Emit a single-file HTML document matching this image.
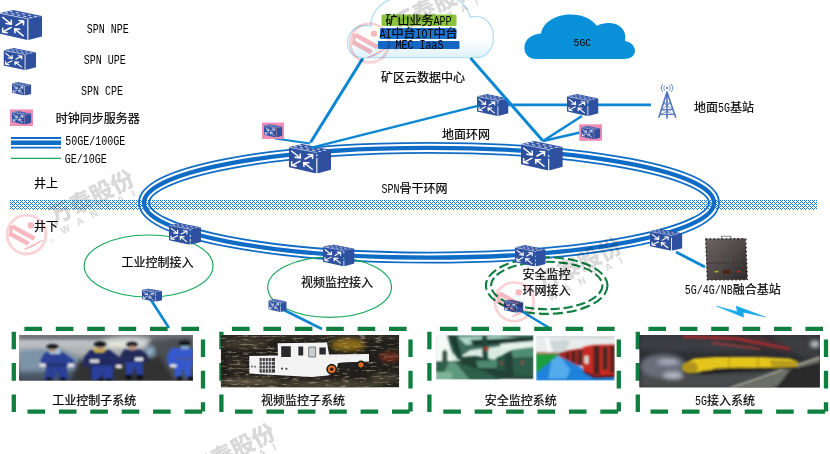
<!DOCTYPE html>
<html lang="zh"><head><meta charset="utf-8"><title>SPN</title>
<style>html,body{margin:0;padding:0;background:#fff}body{width:830px;height:454px;overflow:hidden}svg{display:block}</style>
</head><body>
<svg width="830" height="454" viewBox="0 0 830 454">
<defs>
<pattern id="hatch" x="9" y="201" width="4" height="4" patternUnits="userSpaceOnUse">
<path d="M0 0h1v1h-1zM1 1h1v1h-1zM2 2h1v1h-1zM3 3h1v1h-1zM1 3h1v1h-1zM3 1h1v1h-1z" fill="#1C78CC" shape-rendering="crispEdges"/>
</pattern>
<symbol id="sw" viewBox="0 0 42 30" preserveAspectRatio="none">
<path d="M0 3L13.2 0L42 6L27.8 8.8Z" fill="#3557A6"/>
<path d="M5 2.4L33.5 8.2M9.6 1.2L38 7" stroke="#dfe6f4" stroke-width="0.9" stroke-dasharray="3.2 3" fill="none"/>
<path d="M0 3.4L27.3 8.8L27.3 30L0 23.8Z" fill="#2F509F"/>
<path d="M0 3.3L27.6 8.8" stroke="#b9c6e4" stroke-width="0.8" fill="none"/>
<path d="M28.4 8.8L42 6.1L42 26.4L28.4 30Z" fill="#2F509F"/>
<g stroke="#fff" stroke-width="1.5" fill="none" stroke-linecap="round" stroke-linejoin="round">
<path d="M2.8 7.4L11.4 14.3M11.2 10.2L11.4 14.3L6 13.6"/>
<path d="M16 15.3L23.7 11M19 10.6L23.7 11L23.5 14.8"/>
<path d="M11 17.5L2.6 22M2.7 18.2L2.6 22L7 22.8"/>
<path d="M23.2 25.8L14.6 18.8M19.8 19.2L14.6 18.8L15 22.8"/>
</g>
</symbol>
<filter id="b1" x="-5%" y="-5%" width="110%" height="110%"><feGaussianBlur stdDeviation="1"/></filter>
<filter id="b2" x="-5%" y="-5%" width="110%" height="110%"><feGaussianBlur stdDeviation="2"/></filter>
<filter id="b05" x="-5%" y="-5%" width="110%" height="110%"><feGaussianBlur stdDeviation="0.6"/></filter>
</defs>
<rect width="830" height="454" fill="#fff"/>
<g opacity="0.999">

<rect x="10" y="200" width="807" height="10" fill="url(#hatch)"/>
<mask id="ringm" maskUnits="userSpaceOnUse" x="0" y="0" width="830" height="454"><g fill="none">
<ellipse cx="429" cy="202.7" rx="285" ry="54.9" stroke="#fff" stroke-width="11.8"/>
<ellipse cx="429" cy="202.7" rx="285" ry="54.9" stroke="#000" stroke-width="8.3"/>
<ellipse cx="429" cy="202.7" rx="285" ry="54.9" stroke="#fff" stroke-width="4.3"/>
</g></mask>
<rect x="130" y="135" width="600" height="135" fill="#0F6CC6" mask="url(#ringm)"/>
<ellipse cx="148.6" cy="266" rx="64.4" ry="31" fill="none" stroke="#16A75A" stroke-width="1.15"/>
<ellipse cx="329.6" cy="287.3" rx="61.9" ry="30.1" fill="none" stroke="#16A75A" stroke-width="1.15"/>
<ellipse cx="546.7" cy="285.6" rx="60.8" ry="28.3" fill="none" stroke="#0F7F3F" stroke-width="2.1" stroke-dasharray="10 4"/>
<ellipse cx="546.7" cy="285.5" rx="55.7" ry="23.7" fill="none" stroke="#0F7F3F" stroke-width="2.1" stroke-dasharray="9.2 3.7"/>
<line x1="363" y1="58" x2="310.5" y2="142.5" stroke="#0A86D2" stroke-width="3"/>
<line x1="275" y1="138.5" x2="310" y2="143.5" stroke="#0A86D2" stroke-width="2.2"/>
<line x1="495" y1="104.9" x2="651" y2="104.9" stroke="#0A86D2" stroke-width="2.8"/>
<line x1="582" y1="116" x2="543" y2="141" stroke="#0A86D2" stroke-width="2.6"/>
<line x1="580" y1="132.5" x2="543" y2="141" stroke="#0A86D2" stroke-width="2.4"/>
<line x1="151" y1="300" x2="169" y2="328" stroke="#0A86D2" stroke-width="2.6"/>
<line x1="282" y1="309" x2="322" y2="329" stroke="#0A86D2" stroke-width="2.6"/>
<line x1="518" y1="309" x2="551" y2="329" stroke="#0A86D2" stroke-width="2.6"/>
<line x1="676" y1="252" x2="705" y2="267" stroke="#0A86D2" stroke-width="2.8"/>
<linearGradient id="cg" x1="0" y1="0" x2="0" y2="1"><stop offset="0" stop-color="#ffffff"/><stop offset="0.7" stop-color="#ffffff"/><stop offset="1" stop-color="#DDF1FA"/></linearGradient>
<path d="M362 57.7 C353 57.7 347.5 51 347.5 43.5 C347.5 33 355 25.5 365 25.5 C367 25.5 369 25.8 371 26.5 C370 12 383 -2 402 -3 L446 -3 C458 -3 468 6 470 17 C472 16.5 474 16.3 476 16.3 C486 16.3 493.5 26 493.5 37 C493.5 48 487 57.7 477 57.7 Z" fill="url(#cg)" stroke="#B2E0F4" stroke-width="1.3"/>
<rect x="381.5" y="14.6" width="75" height="11.4" rx="1.5" fill="#8CC43F"/>
<rect x="380" y="28" width="76.5" height="11" rx="1.5" fill="#1B74D2"/>
<rect x="378" y="41" width="81.5" height="8" rx="1" fill="#1565C4"/>
<text y="25.0" font-size="12" fill="#000" xml:space="preserve" ><tspan x="385.5" font-family='"Liberation Sans","Noto Sans CJK SC",sans-serif' stroke="#000" stroke-width="0.2" textLength="48.0" lengthAdjust="spacing">矿山业务</tspan><tspan x="433.5" font-family='"Liberation Mono","Noto Sans CJK SC",monospace' textLength="18.0" lengthAdjust="spacingAndGlyphs">APP</tspan></text>
<text y="38.4" font-size="12" fill="#000" xml:space="preserve" ><tspan x="379.5" font-family='"Liberation Mono","Noto Sans CJK SC",monospace' textLength="12.0" lengthAdjust="spacingAndGlyphs">AI</tspan><tspan x="391.5" font-family='"Liberation Sans","Noto Sans CJK SC",sans-serif' stroke="#000" stroke-width="0.2" textLength="24.0" lengthAdjust="spacing">中台</tspan><tspan x="415.5" font-family='"Liberation Mono","Noto Sans CJK SC",monospace' textLength="18.0" lengthAdjust="spacingAndGlyphs">IOT</tspan><tspan x="433.5" font-family='"Liberation Sans","Noto Sans CJK SC",sans-serif' stroke="#000" stroke-width="0.2" textLength="24.0" lengthAdjust="spacing">中台</tspan></text>
<text y="49.0" font-size="12" fill="#000" xml:space="preserve" ><tspan x="395.4" font-family='"Liberation Mono","Noto Sans CJK SC",monospace' textLength="48.0" lengthAdjust="spacingAndGlyphs">MEC IaaS</tspan></text>
<text y="82.2" font-size="12" fill="#000" xml:space="preserve" ><tspan x="381.0" font-family='"Liberation Sans","Noto Sans CJK SC",sans-serif' stroke="#000" stroke-width="0.2" textLength="84.0" lengthAdjust="spacing">矿区云数据中心</tspan></text>
<path d="M536 59 C528 59 524 53 524.4 47 C525 39 532 34 541 33.5 C543 22 556 14.6 571 14.6 C582 14.6 592 19 597 26 C602 23 608 22.5 613 23.5 C622 25 627 33 625 41 C631 42 635 46 635 51 C635 56 630 59 624 59 Z" fill="#0890D8"/>
<text y="46.2" font-size="11.6" fill="#000" xml:space="preserve" ><tspan x="573.6" font-family='"Liberation Mono","Noto Sans CJK SC",monospace' textLength="17.4" lengthAdjust="spacingAndGlyphs">5GC</tspan></text>
<use href="#sw" x="0" y="10" width="42" height="30"/>
<use href="#sw" x="3.5" y="48" width="32.5" height="22"/>
<use href="#sw" x="12" y="82" width="19.3" height="13.5"/>
<rect x="10" y="109.4" width="23" height="16.6" fill="#F08DB5"/>
<use href="#sw" x="12" y="111.0" width="19.4" height="13.400000000000002"/>
<rect x="262" y="122.6" width="22" height="16.4" fill="#F08DB5"/>
<use href="#sw" x="264" y="124.19999999999999" width="18.4" height="13.2"/>
<rect x="579.2" y="124.3" width="22.8" height="16.5" fill="#F08DB5"/>
<use href="#sw" x="581.2" y="125.89999999999999" width="19.2" height="13.3"/>
<use href="#sw" x="289" y="144" width="42" height="29.4"/>
<use href="#sw" x="521" y="141" width="41.8" height="29.4"/>
<use href="#sw" x="477" y="94" width="31.5" height="22"/>
<use href="#sw" x="567" y="94" width="31.5" height="22"/>
<use href="#sw" x="169" y="223" width="32" height="21.7"/>
<use href="#sw" x="323" y="244.4" width="31.5" height="21.8"/>
<use href="#sw" x="515" y="245" width="30.7" height="21.6"/>
<use href="#sw" x="650" y="229" width="32.4" height="21.8"/>
<use href="#sw" x="142" y="288.4" width="20" height="13.4"/>
<use href="#sw" x="268.3" y="299" width="18.4" height="13"/>
<use href="#sw" x="503.9" y="299.5" width="19.6" height="13.3"/>
<line x1="470.5" y1="58" x2="543" y2="141" stroke="#0A86D2" stroke-width="3"/>
<line x1="310.8" y1="147.8" x2="478.6" y2="105.7" stroke="#0A86D2" stroke-width="2.4"/>
<line x1="11" y1="138" x2="61" y2="138" stroke="#0F6CC6" stroke-width="1.8"/>
<line x1="11" y1="142.8" x2="61" y2="142.8" stroke="#0F6CC6" stroke-width="4.6"/>
<line x1="11" y1="147.7" x2="61" y2="147.7" stroke="#0F6CC6" stroke-width="1.8"/>
<line x1="11" y1="158.3" x2="61" y2="158.3" stroke="#16A75A" stroke-width="1.15"/>
<text y="33.0" font-size="12" fill="#000" xml:space="preserve" ><tspan x="86.7" font-family='"Liberation Mono","Noto Sans CJK SC",monospace' textLength="42.0" lengthAdjust="spacingAndGlyphs">SPN NPE</tspan></text>
<text y="64.0" font-size="12" fill="#000" xml:space="preserve" ><tspan x="83.7" font-family='"Liberation Mono","Noto Sans CJK SC",monospace' textLength="42.0" lengthAdjust="spacingAndGlyphs">SPN UPE</tspan></text>
<text y="95.0" font-size="12" fill="#000" xml:space="preserve" ><tspan x="81.0" font-family='"Liberation Mono","Noto Sans CJK SC",monospace' textLength="42.0" lengthAdjust="spacingAndGlyphs">SPN CPE</tspan></text>
<text y="123.0" font-size="12" fill="#000" xml:space="preserve" ><tspan x="55.8" font-family='"Liberation Sans","Noto Sans CJK SC",sans-serif' stroke="#000" stroke-width="0.2" textLength="84.0" lengthAdjust="spacing">时钟同步服务器</tspan></text>
<text y="145.0" font-size="12" fill="#000" xml:space="preserve" ><tspan x="65.3" font-family='"Liberation Mono","Noto Sans CJK SC",monospace' textLength="60.0" lengthAdjust="spacingAndGlyphs">50GE/100GE</tspan></text>
<text y="162.8" font-size="12" fill="#000" xml:space="preserve" ><tspan x="64.8" font-family='"Liberation Mono","Noto Sans CJK SC",monospace' textLength="42.0" lengthAdjust="spacingAndGlyphs">GE/10GE</tspan></text>
<text y="188.0" font-size="12" fill="#000" xml:space="preserve" ><tspan x="34.0" font-family='"Liberation Sans","Noto Sans CJK SC",sans-serif' stroke="#000" stroke-width="0.2" textLength="24.0" lengthAdjust="spacing">井上</tspan></text>
<text y="230.6" font-size="12" fill="#000" xml:space="preserve" ><tspan x="34.0" font-family='"Liberation Sans","Noto Sans CJK SC",sans-serif' stroke="#000" stroke-width="0.2" textLength="24.0" lengthAdjust="spacing">井下</tspan></text>
<text y="139.0" font-size="12" fill="#000" xml:space="preserve" ><tspan x="442.0" font-family='"Liberation Sans","Noto Sans CJK SC",sans-serif' stroke="#000" stroke-width="0.2" textLength="48.0" lengthAdjust="spacing">地面环网</tspan></text>
<text y="193.0" font-size="12" fill="#000" xml:space="preserve" ><tspan x="381.4" font-family='"Liberation Mono","Noto Sans CJK SC",monospace' textLength="18.0" lengthAdjust="spacingAndGlyphs">SPN</tspan><tspan x="399.4" font-family='"Liberation Sans","Noto Sans CJK SC",sans-serif' stroke="#000" stroke-width="0.2" textLength="48.0" lengthAdjust="spacing">骨干环网</tspan></text>
<text y="266.6" font-size="12" fill="#000" xml:space="preserve" ><tspan x="121.4" font-family='"Liberation Sans","Noto Sans CJK SC",sans-serif' stroke="#000" stroke-width="0.2" textLength="72.0" lengthAdjust="spacing">工业控制接入</tspan></text>
<text y="287.2" font-size="12" fill="#000" xml:space="preserve" ><tspan x="301.0" font-family='"Liberation Sans","Noto Sans CJK SC",sans-serif' stroke="#000" stroke-width="0.2" textLength="72.0" lengthAdjust="spacing">视频监控接入</tspan></text>
<text y="279.4" font-size="12" fill="#000" xml:space="preserve" ><tspan x="522.6" font-family='"Liberation Sans","Noto Sans CJK SC",sans-serif' stroke="#000" stroke-width="0.2" textLength="48.0" lengthAdjust="spacing">安全监控</tspan></text>
<text y="295.0" font-size="12" fill="#000" xml:space="preserve" ><tspan x="522.6" font-family='"Liberation Sans","Noto Sans CJK SC",sans-serif' stroke="#000" stroke-width="0.2" textLength="48.0" lengthAdjust="spacing">环网接入</tspan></text>
<text y="112.0" font-size="12" fill="#000" xml:space="preserve" ><tspan x="694.0" font-family='"Liberation Sans","Noto Sans CJK SC",sans-serif' stroke="#000" stroke-width="0.2" textLength="24.0" lengthAdjust="spacing">地面</tspan><tspan x="718.0" font-family='"Liberation Mono","Noto Sans CJK SC",monospace' textLength="12.0" lengthAdjust="spacingAndGlyphs">5G</tspan><tspan x="730.0" font-family='"Liberation Sans","Noto Sans CJK SC",sans-serif' stroke="#000" stroke-width="0.2" textLength="24.0" lengthAdjust="spacing">基站</tspan></text>
<text y="294.2" font-size="12" fill="#000" xml:space="preserve" ><tspan x="684.7" font-family='"Liberation Mono","Noto Sans CJK SC",monospace' textLength="48.0" lengthAdjust="spacingAndGlyphs">5G/4G/NB</tspan><tspan x="732.7" font-family='"Liberation Sans","Noto Sans CJK SC",sans-serif' stroke="#000" stroke-width="0.2" textLength="48.0" lengthAdjust="spacing">融合基站</tspan></text>
<g stroke="#5274BA" fill="none" stroke-width="1.6" stroke-linecap="round">
<path d="M667 92L659 117M667 92L675.5 117M667 92L667 118"/>
<path d="M663.5 103L670.5 103M661.5 109.5L672.5 109.5M660 114.5L674 114.5" stroke-width="0.9"/>
<path d="M663.5 103L672.5 109.5M670.5 103L661.5 109.5M661.5 109.5L674 114.5M672.5 109.5L660 114.5" stroke-width="0.7"/>
<path d="M664.6 85.6A3.4 3.4 0 0 0 664.6 90.4M669.4 85.6A3.4 3.4 0 0 1 669.4 90.4M662.6 84.4A5.6 5.6 0 0 0 662.6 91.6M671.4 84.4A5.6 5.6 0 0 1 671.4 91.6" stroke-width="0.8"/>
</g><circle cx="667" cy="88" r="1.1" fill="#4A6DB5"/>
<linearGradient id="bsg" x1="0" y1="0" x2="1" y2="1"><stop offset="0" stop-color="#6b6462"/><stop offset="0.45" stop-color="#534c4b"/><stop offset="1" stop-color="#2f2a2a"/></linearGradient>
<path d="M721.6 239L721.6 236.2L730.8 236.2L730.8 239" fill="none" stroke="#8a8a8a" stroke-width="1.1"/>
<path d="M705.4 238.8L745.6 238.6L747.4 279.8L707.2 280Z" fill="url(#bsg)" filter="url(#b05)"/>
<path d="M705.8 238.8L707.4 280M745.8 238.8L747.4 279.8M705.6 238.9L745.6 238.7M707.2 279.9L747.4 279.7" stroke="#262222" stroke-width="1.3" stroke-dasharray="1.6 2.4" fill="none"/>
<path d="M707.5 263L746.6 262.6" stroke="#3a3434" stroke-width="0.8"/>
<rect x="723.2" y="270" width="6.6" height="4" fill="#4a2410"/>
<rect x="714.6" y="270.8" width="4" height="1.6" fill="#a8ad28"/><rect x="737" y="270.8" width="3.4" height="1.6" fill="#b82a28"/>
<circle cx="727.4" cy="261.6" r="0.7" fill="#2f7a3a"/><circle cx="730.4" cy="261.6" r="0.7" fill="#2f7a3a"/><circle cx="738.4" cy="261.6" r="0.7" fill="#2f7a3a"/>
<path d="M716.4 306.1L737.4 311.7L736.1 306.1L765.5 317L743.2 312.2L743.6 317.3Z" fill="#14A7EA" stroke="#14A7EA" stroke-width="0.5" stroke-linejoin="round"/>
<g stroke="#0F7F3F" stroke-width="4.3" stroke-dasharray="17.6 13.8" fill="none">
<line x1="13.8" y1="328.8" x2="203" y2="328.8" stroke-dashoffset="-10.6"/>
<line x1="203" y1="328.8" x2="203" y2="411.6" stroke-dashoffset="-10.6"/>
<line x1="203" y1="411.6" x2="13.8" y2="411.6" stroke-dashoffset="-0.9"/>
<line x1="13.8" y1="413.1" x2="13.8" y2="328.8" stroke-dashoffset="-1.0"/>
</g>
<g stroke="#0F7F3F" stroke-width="4.3" stroke-dasharray="17.6 13.8" fill="none">
<line x1="221.4" y1="328.8" x2="410.5" y2="328.8" stroke-dashoffset="-10.6"/>
<line x1="410.5" y1="328.8" x2="410.5" y2="411.6" stroke-dashoffset="-10.6"/>
<line x1="410.5" y1="411.6" x2="221.4" y2="411.6" stroke-dashoffset="-0.9"/>
<line x1="221.4" y1="413.1" x2="221.4" y2="328.8" stroke-dashoffset="-1.0"/>
</g>
<g stroke="#0F7F3F" stroke-width="4.3" stroke-dasharray="17.6 13.8" fill="none">
<line x1="429.4" y1="328.8" x2="618.8" y2="328.8" stroke-dashoffset="-10.6"/>
<line x1="618.8" y1="328.8" x2="618.8" y2="411.6" stroke-dashoffset="-10.6"/>
<line x1="618.8" y1="411.6" x2="429.4" y2="411.6" stroke-dashoffset="-0.9"/>
<line x1="429.4" y1="413.1" x2="429.4" y2="328.8" stroke-dashoffset="-1.0"/>
</g>
<g stroke="#0F7F3F" stroke-width="4.3" stroke-dasharray="17.6 13.8" fill="none">
<line x1="637.8" y1="328.8" x2="826" y2="328.8" stroke-dashoffset="-10.6"/>
<line x1="826" y1="328.8" x2="826" y2="411.6" stroke-dashoffset="-10.6"/>
<line x1="826" y1="411.6" x2="637.8" y2="411.6" stroke-dashoffset="-0.9"/>
<line x1="637.8" y1="413.1" x2="637.8" y2="328.8" stroke-dashoffset="-1.0"/>
</g>
<clipPath id="p1"><rect x="19.2" y="335" width="173.8" height="45.4"/></clipPath>
<g clip-path="url(#p1)"><rect x="19.2" y="335" width="173.8" height="45.4" fill="#6c7176"/>
<linearGradient id="p1g" x1="0" y1="0" x2="0" y2="1"><stop offset="0" stop-color="#7f8386"/><stop offset="0.12" stop-color="#c3c6c8"/><stop offset="0.4" stop-color="#a9adb0"/><stop offset="0.62" stop-color="#7c8288"/><stop offset="0.85" stop-color="#47494b"/><stop offset="1" stop-color="#2c2c2d"/></linearGradient>
<rect x="19" y="335" width="175" height="46" fill="url(#p1g)"/>
<g filter="url(#b2)">
<rect x="19" y="335" width="175" height="4" fill="#5e6265"/>
<path d="M19 350L62 349L84 360L84 381L19 381Z" fill="#7d93a8"/>
<path d="M19 372L80 370L80 381L19 381Z" fill="#4a5866"/>
<ellipse cx="128" cy="342" rx="26" ry="5" fill="#d2d4d4"/>
<path d="M150 340L194 338L194 381L140 381L142 352Z" fill="#4b4f53"/>
<path d="M78 360L160 356L175 381L70 381Z" fill="#333333"/>
<rect x="108" y="343" width="18" height="4" fill="#f0eee0"/>
<rect x="146" y="347" width="8" height="9" fill="#8fb0c8"/>
</g>
<g filter="url(#b1)">
<path d="M45 352.5L63 352.5L74 360L75 367L67 366L67 372L69 380L59 380L57 372L54 380L44 380L46 370L45.5 365L40 367.5L41 359Z" fill="#2c3f95"/>
<rect x="50" y="349" width="10" height="5" fill="#a9c3dd"/>
<ellipse cx="52.8" cy="349.6" rx="3.2" ry="2.8" fill="#b99684"/><ellipse cx="52.5" cy="346.6" rx="6" ry="2.7" fill="#17181c"/>
<rect x="39.5" y="363.5" width="6" height="3.4" fill="#e8e8e8"/><rect x="68" y="363.5" width="6" height="3.4" fill="#e8e8e8"/>
<rect x="47" y="364.2" width="18" height="1.4" fill="#1a1d2c"/>
<rect x="46" y="377.5" width="6" height="3" fill="#101010"/><rect x="60" y="377.5" width="6" height="3" fill="#101010"/>
<path d="M90 350L110 350L120 358L122 366L114 367L113 380L104 380L102 371L100 380L91 380L90 367L83 366L84 357Z" fill="#222c63"/>
<path d="M92 366L113 366L113 380L104 380L102 372L100 380L92 380Z" fill="#2a3f9c"/>
<path d="M93 348.5L106 348.5L104 352.5L95 352.5Z" fill="#cdb640"/>
<ellipse cx="100" cy="347.4" rx="3.2" ry="2.8" fill="#b08c7a"/><ellipse cx="100" cy="344.2" rx="6.2" ry="2.9" fill="#17181c"/>
<rect x="90" y="359.5" width="9" height="3.2" fill="#e4e4e4"/><rect x="116" y="365" width="6" height="3.4" fill="#e8e8e8"/>
<rect x="98" y="378" width="6" height="2.6" fill="#101010"/><rect x="106" y="378" width="6" height="2.6" fill="#101010"/>
<path d="M124 349.5L141 349.5L147 355L148 361L143 363L124 363L120 360L121 354Z" fill="#242a58"/>
<path d="M125 362L143 362L143 376L137 376L134 366L132 376L126 376Z" fill="#2a42a0"/>
<ellipse cx="132" cy="344.6" rx="5.6" ry="2.8" fill="#17181c"/>
<ellipse cx="132.2" cy="348" rx="3.2" ry="2.6" fill="#b48c78"/>
<rect x="135" y="357.6" width="8" height="3.2" fill="#eeeeee"/>
<rect x="126" y="374.6" width="5.4" height="5" fill="#0c0c0c"/><rect x="137" y="374.6" width="5.4" height="5" fill="#0c0c0c"/>
<path d="M171 348L193 348L193 366L191 366L191 377L185 377L183 367L181 377L175 377L174 366L168 366L167 356Z" fill="#3558cc"/>
<ellipse cx="184.6" cy="343.2" rx="5.8" ry="2.8" fill="#17181c"/>
<rect x="181" y="345.8" width="8" height="3.6" fill="#7fa6c8"/>
<rect x="176" y="358" width="17" height="1.2" fill="#5a5a48"/>
<rect x="170" y="364.4" width="6.6" height="3" fill="#ececec"/>
<rect x="177" y="376" width="5" height="4.4" fill="#0c0c0c"/><rect x="188" y="376" width="5" height="4.4" fill="#0c0c0c"/>
</g>
</g>
<filter id="spk" x="0" y="0" width="100%" height="100%"><feTurbulence type="fractalNoise" baseFrequency="0.12 0.5" numOctaves="3" seed="11" result="n"/><feColorMatrix in="n" type="matrix" values="0 0 0 0 0.45  0 0 0 0 0.39  0 0 0 0 0.27  3.2 0 0 0 -1.75"/></filter>
<clipPath id="p2"><rect x="220.7" y="334.9" width="178.5" height="52.6"/></clipPath>
<g clip-path="url(#p2)"><rect x="220.7" y="334.9" width="178.5" height="52.6" fill="#211f1a"/>
<g filter="url(#b2)">
<ellipse cx="348" cy="345" rx="17" ry="6" fill="#8a6a18"/>
<ellipse cx="390" cy="357" rx="11" ry="5" fill="#6a2a1c"/>
<ellipse cx="250" cy="382" rx="30" ry="4" fill="#5b513f"/>
<ellipse cx="330" cy="384" rx="55" ry="3.5" fill="#4c4636"/>
<ellipse cx="245" cy="344" rx="24" ry="5" fill="#3d382c"/>
<ellipse cx="385" cy="378" rx="16" ry="5" fill="#3f3a2e"/>
<ellipse cx="236" cy="364" rx="10" ry="8" fill="#2f2c24"/>
<rect x="221" y="335" width="180" height="4" fill="#35322a"/>
</g>
<rect x="220.7" y="334.9" width="178.5" height="52.6" filter="url(#spk)" opacity="0.75"/>
<g filter="url(#b05)">
<path d="M249.3 356L278 355.5L277.6 343.2L327 342.6L329 354.4L369 354L369 361.5L345 362.5L338 363L336 372L328 375.5L312 377L249.3 373.5Z" fill="#f3f3f3"/>
<path d="M281.2 346.3L290.8 346.3L290.8 357L281.2 357ZM298.4 346.6L303.2 346.6L303.2 355.6L298.4 355.6ZM319.4 347.4L325.8 347.4L325.8 354.6L319.4 354.6Z" fill="#2b2b2d"/>
<path d="M308.6 347L315.6 347L315.6 357L308.6 357Z" fill="#c9ccd0" stroke="#55585c" stroke-width="0.7"/>
<rect x="259.6" y="358" width="15.4" height="14.6" fill="#3a3a3c"/>
<path d="M262.3 358v14.6M265.3 358v14.6M268.3 358v14.6M271.3 358v14.6M259.6 361.6h15.4M259.6 365.2h15.4M259.6 368.8h15.4" stroke="#e8e8e8" stroke-width="0.9"/>
<circle cx="331.7" cy="369.2" r="5.4" fill="#1c1c1c"/><circle cx="331.7" cy="369.2" r="3.8" fill="#e8702a"/><circle cx="331.7" cy="369.2" r="1.8" fill="#2a2320"/>
<circle cx="361" cy="364.8" r="4.4" fill="#1c1c1c"/><circle cx="361" cy="364.8" r="2.6" fill="#d8682a"/>
<path d="M339 363L356 362L356 367L342 370Z" fill="#222"/>
<circle cx="282" cy="368.6" r="1.1" fill="#444"/><circle cx="286.4" cy="368.8" r="1.1" fill="#444"/><circle cx="252" cy="366.5" r="0.9" fill="#555"/><circle cx="255" cy="366.7" r="0.9" fill="#555"/>
</g>
</g>
<clipPath id="p3a"><rect x="435.9" y="335.2" width="97.5" height="44.4"/></clipPath>
<g clip-path="url(#p3a)"><rect x="435.9" y="335.2" width="97.5" height="44.4" fill="#d9ebe3"/>
<g filter="url(#b1)">
<path d="M446 335L534 335L534 343L500 346L470 350L458 358L452 352Z" fill="#3d6a5b"/>
<path d="M458 337L500 336L520 338L490 341L466 345Z" fill="#a9d6c8"/>
<path d="M448 335L456 335L462 357L458 360Z" fill="#1f3d33"/>
<path d="M470 340L534 337L534 341L474 346Z" fill="#1d392f"/>
<path d="M482 336L487 336L488 362L483 362Z" fill="#24463b"/>
<path d="M500 344L534 341L534 346L502 349Z" fill="#e6f3ee"/>
<path d="M436 335L447 335L452 361L436 361Z" fill="#f4faf7"/>
<path d="M442 352Q445 347 447.5 352L447.5 369L442 369Z" fill="#3a5a4c"/>
<path d="M436 361L466 361L476 364L500 372L500 380L436 380Z" fill="#2f5f49"/>
<path d="M449 362L455 362L470 380L440 380Z" fill="#5f987a"/>
<path d="M436 372L452 372L452 380L436 380Z" fill="#7fb498"/>
<path d="M460 357L476 356L494 360L510 351L534 348L534 379L500 379L486 372L468 366L460 363Z" fill="#204337"/>
<path d="M511 350L534 347L534 357L513 358Z" fill="#4f8c76"/>
<path d="M476 361L498 360L498 368L478 368Z" fill="#4c8870"/>
<path d="M497 357L505 356L505 371L497 371Z" fill="#2b5446"/>
<path d="M512 359L534 358L534 376L514 376Z" fill="#2d5d4c"/>
<circle cx="486.3" cy="348.8" r="2.2" fill="#a0402c"/>
<rect x="521.6" y="361" width="1.6" height="3.6" fill="#b04a3a"/><rect x="500" y="362" width="3" height="2" fill="#8a4a38"/>
</g>
</g>
<clipPath id="p3b"><rect x="536.1" y="336.1" width="78.7" height="44.5"/></clipPath>
<g clip-path="url(#p3b)"><rect x="536.1" y="336.1" width="78.7" height="44.5" fill="#e9eced"/>
<g filter="url(#b1)">
<path d="M536.1 336.1L614.8 336.1L614.8 338.5L536.1 337.3Z" fill="#cfd3d4"/>
<path d="M544.5 337.3L549.4 337.3L551.2 352.4L548.2 352.4Z" fill="#fbfbfb"/>
<path d="M549.4 340.9L570.0 339.7L566.3 350.6L554.2 352.4Z" fill="#cdd6d8"/>
<path d="M536.1 354.2L558.5 353.6L570.0 360.3L586.9 371.2L614.8 378.4L614.8 380.9L536.1 380.9Z" fill="#1c82da"/>
<path d="M551.8 356.0L560.3 356.0L570.0 370.0L566.3 378.4L548.2 378.4L550.6 366.3Z" fill="#55acec"/>
<path d="M536.1 353.3L558.1 353.3L557.3 356.0L536.1 373.6Z" fill="#1f9c3c"/>
<path d="M536.1 352.5L558.1 352.5L558.1 353.7L536.1 353.7Z" fill="#b84a40"/>
<path d="M558.1 353.0L566.3 350.8L583.3 348.2L583.3 366.3L576.0 365.1L566.3 359.7L558.1 355.7Z" fill="#a82820"/>
<path d="M566.3 352.4L568.8 352.0L568.8 360.3L566.3 359.1Z" fill="#40201c"/>
<path d="M571.8 351.8L575.1 351.2L575.1 363.3L571.8 361.7Z" fill="#3c2420"/>
<path d="M577.8 350.6L582.1 350.0L582.1 365.1L577.8 364.5Z" fill="#4a2a26"/>
<path d="M583.1 347.0L593.0 345.1L614.8 344.5L614.8 376.6L595.4 377.5L583.1 371.8Z" fill="#c62a22"/>
<path d="M593.6 346.4L599.6 345.7L599.6 374.8L593.6 374.2Z" fill="#4a2420"/>
<path d="M602.7 347.0L607.5 346.7L607.5 370.0L602.7 370.0Z" fill="#3a2a28"/>
<path d="M609.9 345.7L614.8 345.7L614.8 373.6L609.9 372.4Z" fill="#5a2420"/>
<path d="M584.5 356.0L588.4 355.7L588.4 363.9L584.5 363.3Z" fill="#d9e4d8"/>
<path d="M583.3 370.6L595.4 376.0L614.8 375.1L614.8 377.8L594.2 378.4L583.3 372.6Z" fill="#3a1412"/>
</g>
</g>
<clipPath id="p4"><rect x="639.2" y="334.9" width="180.8" height="52.6"/></clipPath>
<g clip-path="url(#p4)"><rect x="639.2" y="334.9" width="180.8" height="52.6" fill="#2c2e33"/>
<g filter="url(#b2)">
<path d="M640 335L700 335L760 352L690 352L640 350Z" fill="#3a3c42"/>
<path d="M640 372L700 374L760 372L820 360L820 388L640 388Z" fill="#4a4b4d"/>
<ellipse cx="663" cy="366" rx="23" ry="12" fill="#676e7a"/><ellipse cx="668" cy="362" rx="11" ry="2.5" fill="#aab2c2"/>
<ellipse cx="673" cy="375.5" rx="10" ry="3.2" fill="#b4bac6"/>
<path d="M690 336L760 336L800 350L790 352Z" fill="#4a3034"/>
<path d="M770 335L820 335L820 360L800 356Z" fill="#3a3c40"/>
<ellipse cx="815" cy="344" rx="4" ry="2" fill="#e0e4e8"/>
</g>
<g filter="url(#b1)">
<path d="M683 336.6L735 338.4L790 349" stroke="#b22a2e" stroke-width="2.2" fill="none"/>
<path d="M712 343L760 349" stroke="#b8383a" stroke-width="1.3" fill="none"/>
<path d="M820 358L735 388L770 388L820 368Z" fill="#6c6e68"/>
<path d="M820 357L730 388" stroke="#b9b9a8" stroke-width="1.6" fill="none"/>
<path d="M790 370L820 362L820 388L776 388Z" fill="#2a2b2c"/>
<path d="M694 358.5L716 357L760 357L790 358.5L798 361.5L797 366.5L770 368.5L740 367.5L716 368.5L702 372L690 373L683 370L683 364Z" fill="#e5c51a"/>
<ellipse cx="690" cy="367.5" rx="8" ry="6" fill="#b0951c"/>
<path d="M729 357L729 368M758 357L758 368" stroke="#9a8210" stroke-width="0.9"/><path d="M700 371L740 368L797 367L797 369L740 370.5L702 374Z" fill="#1c1c1e"/>
<path d="M770 360L798 361L797 367L772 368Z" fill="#b89c1c"/>
</g>
</g>
<text y="405.4" font-size="12" fill="#000" xml:space="preserve" ><tspan x="52.3" font-family='"Liberation Sans","Noto Sans CJK SC",sans-serif' stroke="#000" stroke-width="0.2" textLength="84.0" lengthAdjust="spacing">工业控制子系统</tspan></text>
<text y="405.4" font-size="12" fill="#000" xml:space="preserve" ><tspan x="261.0" font-family='"Liberation Sans","Noto Sans CJK SC",sans-serif' stroke="#000" stroke-width="0.2" textLength="84.0" lengthAdjust="spacing">视频监控子系统</tspan></text>
<text y="405.4" font-size="12" fill="#000" xml:space="preserve" ><tspan x="484.7" font-family='"Liberation Sans","Noto Sans CJK SC",sans-serif' stroke="#000" stroke-width="0.2" textLength="72.0" lengthAdjust="spacing">安全监控系统</tspan></text>
<text y="405.4" font-size="12" fill="#000" xml:space="preserve" ><tspan x="694.9" font-family='"Liberation Mono","Noto Sans CJK SC",monospace' textLength="12.0" lengthAdjust="spacingAndGlyphs">5G</tspan><tspan x="706.9" font-family='"Liberation Sans","Noto Sans CJK SC",sans-serif' stroke="#000" stroke-width="0.2" textLength="48.0" lengthAdjust="spacing">接入系统</tspan></text>
</g>
<g style="mix-blend-mode:multiply">
<g transform="translate(26.5,234.6)">
<circle cx="0" cy="0" r="19.4" fill="none" stroke="#FAD3D6" stroke-width="2.8"/>
<path d="M-14.5 -8.2L8 4.2M-17.4 -1.3L2 9.2" stroke="#F7B9BF" stroke-width="4.4" fill="none"/>
<path d="M-15.6 -9L-15.6 2" stroke="#F7B9BF" stroke-width="3" fill="none"/>
<circle cx="4.4" cy="-9.4" r="3.2" fill="#F7B9BF"/>
<path d="M-2 14.5L16.3 5.5L5 12.5Z" fill="#F7B9BF" stroke="#F7B9BF" stroke-width="1"/>
<g fill="#D9D9D9">
<text transform="translate(27.4,-9.6) rotate(-26.5)" x="0" y="0" font-size="23" font-weight="900" font-family='"Liberation Sans","Noto Sans CJK SC",sans-serif' textLength="92" lengthAdjust="spacing">万泰股份</text>
<text transform="translate(36.2,-0.2) rotate(-28)" x="0" y="0" font-size="10" font-weight="bold" font-family='"Liberation Sans","Noto Sans CJK SC",sans-serif' textLength="83" lengthAdjust="spacing">WANTAI</text>
<text transform="translate(25,9) rotate(-27)" x="0" y="0" font-size="6" font-family='"Liberation Sans","Noto Sans CJK SC",sans-serif'>®</text>
</g></g>
<g transform="translate(369.6,43)">
<circle cx="0" cy="0" r="19.4" fill="none" stroke="#FAD3D6" stroke-width="2.8"/>
<path d="M-14.5 -8.2L8 4.2M-17.4 -1.3L2 9.2" stroke="#F7B9BF" stroke-width="4.4" fill="none"/>
<path d="M-15.6 -9L-15.6 2" stroke="#F7B9BF" stroke-width="3" fill="none"/>
<circle cx="4.4" cy="-9.4" r="3.2" fill="#F7B9BF"/>
<path d="M-2 14.5L16.3 5.5L5 12.5Z" fill="#F7B9BF" stroke="#F7B9BF" stroke-width="1"/>
<g fill="#D9D9D9">
<text transform="translate(27.4,-9.6) rotate(-26.5)" x="0" y="0" font-size="23" font-weight="900" font-family='"Liberation Sans","Noto Sans CJK SC",sans-serif' textLength="92" lengthAdjust="spacing">万泰股份</text>
<text transform="translate(36.2,-0.2) rotate(-28)" x="0" y="0" font-size="10" font-weight="bold" font-family='"Liberation Sans","Noto Sans CJK SC",sans-serif' textLength="83" lengthAdjust="spacing">WANTAI</text>
<text transform="translate(25,9) rotate(-27)" x="0" y="0" font-size="6" font-family='"Liberation Sans","Noto Sans CJK SC",sans-serif'>®</text>
</g></g>
<g transform="translate(514.2,301.8)">
<circle cx="0" cy="0" r="19.4" fill="none" stroke="#FAD3D6" stroke-width="2.8"/>
<path d="M-14.5 -8.2L8 4.2M-17.4 -1.3L2 9.2" stroke="#F7B9BF" stroke-width="4.4" fill="none"/>
<path d="M-15.6 -9L-15.6 2" stroke="#F7B9BF" stroke-width="3" fill="none"/>
<circle cx="4.4" cy="-9.4" r="3.2" fill="#F7B9BF"/>
<path d="M-2 14.5L16.3 5.5L5 12.5Z" fill="#F7B9BF" stroke="#F7B9BF" stroke-width="1"/>
<g fill="#D9D9D9">
<text transform="translate(27.4,-9.6) rotate(-26.5)" x="0" y="0" font-size="23" font-weight="900" font-family='"Liberation Sans","Noto Sans CJK SC",sans-serif' textLength="92" lengthAdjust="spacing">万泰股份</text>
<text transform="translate(36.2,-0.2) rotate(-28)" x="0" y="0" font-size="10" font-weight="bold" font-family='"Liberation Sans","Noto Sans CJK SC",sans-serif' textLength="83" lengthAdjust="spacing">WANTAI</text>
<text transform="translate(25,9) rotate(-27)" x="0" y="0" font-size="6" font-family='"Liberation Sans","Noto Sans CJK SC",sans-serif'>®</text>
</g></g>
<g transform="translate(167.7,488.4)">
<circle cx="0" cy="0" r="19.4" fill="none" stroke="#FAD3D6" stroke-width="2.8"/>
<path d="M-14.5 -8.2L8 4.2M-17.4 -1.3L2 9.2" stroke="#F7B9BF" stroke-width="4.4" fill="none"/>
<path d="M-15.6 -9L-15.6 2" stroke="#F7B9BF" stroke-width="3" fill="none"/>
<circle cx="4.4" cy="-9.4" r="3.2" fill="#F7B9BF"/>
<path d="M-2 14.5L16.3 5.5L5 12.5Z" fill="#F7B9BF" stroke="#F7B9BF" stroke-width="1"/>
<g fill="#D9D9D9">
<text transform="translate(27.4,-9.6) rotate(-26.5)" x="0" y="0" font-size="23" font-weight="900" font-family='"Liberation Sans","Noto Sans CJK SC",sans-serif' textLength="92" lengthAdjust="spacing">万泰股份</text>
<text transform="translate(36.2,-0.2) rotate(-28)" x="0" y="0" font-size="10" font-weight="bold" font-family='"Liberation Sans","Noto Sans CJK SC",sans-serif' textLength="83" lengthAdjust="spacing">WANTAI</text>
<text transform="translate(25,9) rotate(-27)" x="0" y="0" font-size="6" font-family='"Liberation Sans","Noto Sans CJK SC",sans-serif'>®</text>
</g></g>
</g>
</svg></body></html>
